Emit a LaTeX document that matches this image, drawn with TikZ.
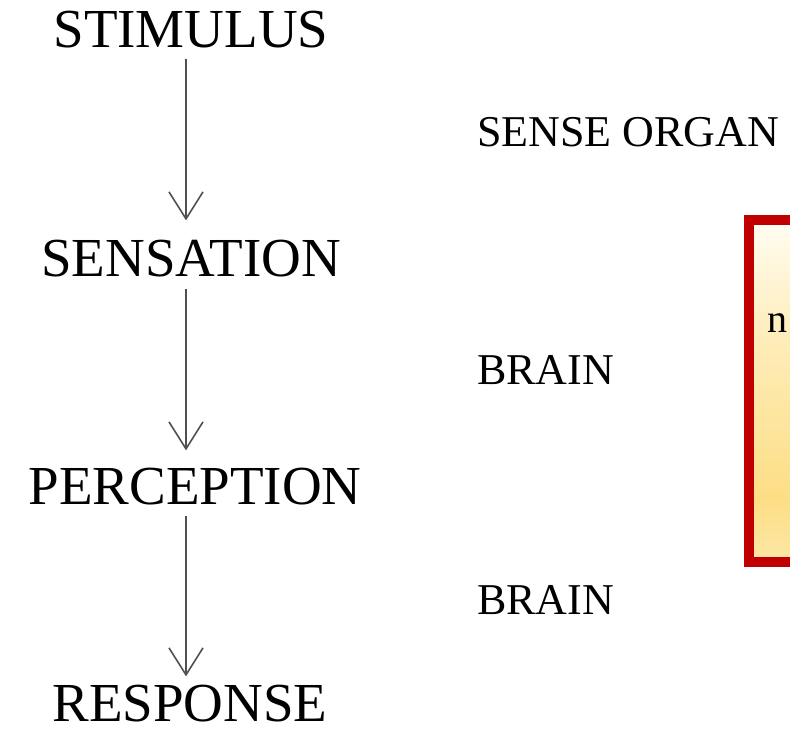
\documentclass[tikz,border=0pt]{standalone}
\usepackage{fontspec}
\setmainfont{Liberation Serif}
\usetikzlibrary{arrows.meta}
\definecolor{frame}{HTML}{C00000}
\definecolor{fillTop}{HTML}{FFFCF0}
\definecolor{fillMid}{HTML}{FEEDBA}
\definecolor{fillDeep}{HTML}{FDDE86}
\definecolor{fillBot}{HTML}{FCE6A2}
\definecolor{flowgray}{HTML}{505050}
% vertical fill: path spans 25bp (bottom) to 75bp (top)
\pgfdeclareverticalshading{boxfill}{100bp}{color(0bp)=(fillBot); color(25bp)=(fillBot); color(34bp)=(fillDeep); color(58bp)=(fillMid); color(75bp)=(fillTop); color(100bp)=(fillTop)}
\tikzset{
  stage/.style={inner sep=0pt, font=\fontsize{55}{60}\selectfont, anchor=base},
  organ/.style={inner sep=0pt, font=\fontsize{44}{50}\selectfont, anchor=base west},
  flow/.style={draw=flowgray, line width=1.3pt, -{Straight Barb[length=27pt, width=34pt, line width=1.6pt]}},
}
\begin{document}
\begin{tikzpicture}[x=1pt, y=1pt]
  \useasboundingbox (0,0) rectangle (790,730);
  \clip (0,0) rectangle (790,730);

  % stages of the process
  \node[stage] (stim) at (191,682) {STIMULUS};
  \node[stage] (sens) at (191,453) {SENSATION};
  \node[stage] (perc) at (195,225) {PERCEPTION};
  \node[stage] (resp) at (190,8) {RESPONSE};

  % where each step happens
  \node[organ] (organ) at (477,583) {SENSE ORGAN};
  \node[organ] (brainA) at (477,345) {BRAIN};
  \node[organ] (brainB) at (477,115) {BRAIN};

  % arrows down the left column
  \coordinate (ax) at (186,0);
  \draw[flow] ([yshift=-10pt]stim.south -| ax) -- ([yshift=20pt]sens.north -| ax);
  \draw[flow] ([yshift=-11pt]sens.south -| ax) -- ([yshift=18pt]perc.north -| ax);
  \draw[flow] ([yshift=-10pt]perc.south -| ax) -- ([yshift=9pt]resp.north -| ax);

  % framed note on the right
  \shade[shading=boxfill] (754,173) rectangle (900,505);
  \draw[frame, line width=10pt] (900,168) -- (749,168) -- (749,510) -- (900,510);
  \node[inner sep=0pt, anchor=base west, font=\fontsize{40}{46}\selectfont] (note) at (767,397) {n};
\end{tikzpicture}
\end{document}
